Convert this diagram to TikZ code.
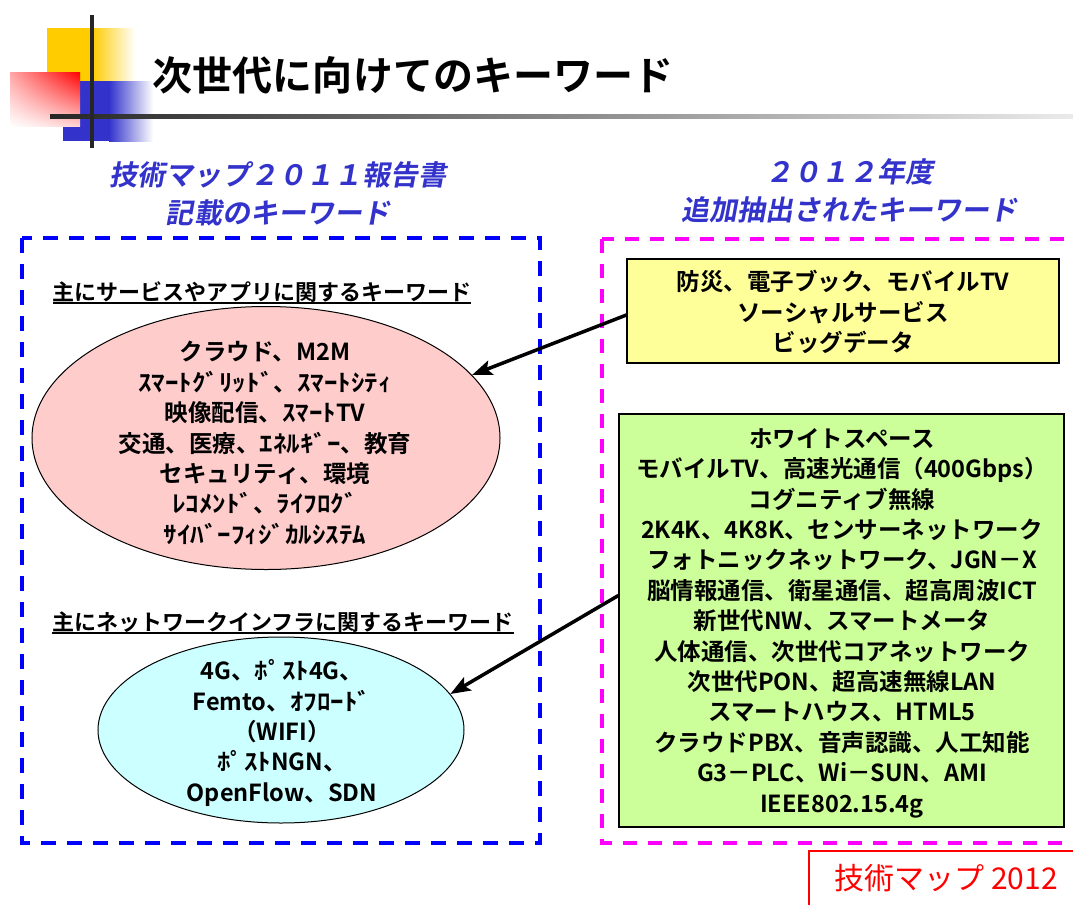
\documentclass[tikz,border=0pt]{standalone}
\usepackage{fontspec}
\setmainfont{Noto Sans CJK JP}[BoldFont={Noto Sans CJK JP Bold}]
\newfontfamily\jpslant{Noto Sans CJK JP Bold}[FakeSlant=0.18]
\newfontfamily\hwk{Noto Sans CJK JP}[BoldFont={Noto Sans CJK JP Bold},FakeStretch=1.15]
\usetikzlibrary{shapes.geometric,arrows.meta,shadings}
\definecolor{hdblue}{HTML}{3333CC}
\definecolor{logoyellow}{HTML}{FFCC00}
\definecolor{logoblue}{HTML}{3333CC}
\definecolor{pinkfill}{HTML}{FFCCCC}
\definecolor{cyanfill}{HTML}{CCFFFF}
\definecolor{yellowfill}{HTML}{FFFF99}
\definecolor{greenfill}{HTML}{CCFF99}
\definecolor{frameblue}{HTML}{0000FF}
\definecolor{framemagenta}{HTML}{FF00FF}
\tikzset{
  hdr/.style={font=\jpslant\fontsize{28bp}{37.5bp}\selectfont, text=hdblue, align=center, inner sep=0pt},
  sub/.style={font=\bfseries\fontsize{22bp}{26bp}\selectfont, inner sep=0pt},
  kw/.style={font=\bfseries\fontsize{23.5bp}{30.4bp}\selectfont, align=center, inner sep=0pt},
  kwbox/.style={draw=black, line width=1.2bp, rectangle, inner sep=0pt},
  bubble/.style={ellipse, draw=black, line width=1bp, inner sep=0pt},
  pointer/.style={line width=3.5bp, -{Stealth[length=20bp,width=15bp,inset=4bp]}},
  bluefr/.style={draw=frameblue, line width=3.5bp, dash pattern=on 15bp off 11bp},
  magfr/.style={draw=framemagenta, line width=3.5bp, dash pattern=on 14bp off 11bp},
}
\begin{document}
\begin{tikzpicture}[x=1bp,y=-1bp]
\useasboundingbox (0,0) rectangle (1073,905);
\clip (0,0) rectangle (1073,905);
\fill[white] (0,0) rectangle (1073,905);
% logo
\fill[logoyellow] (47,28) rectangle (92,81);
\shade[left color=logoyellow, right color=white] (92,28) rectangle (135,81);
\fill[logoblue] (63,81) rectangle (109,141);
\shade[left color=logoblue, right color=white] (109,81) rectangle (153,141);
\shade[upper left=red!35, upper right=red, lower left=white, lower right=red!18] (10,72) rectangle (80,126);
\shade[left color=black!85, right color=black!8] (50,114) rectangle (1073,118.5);
\fill[black!85] (90,15) rectangle (94,148);
% title
\node[font=\bfseries\fontsize{40bp}{48bp}\selectfont, inner sep=0pt] (title) at (413,75) {次世代に向けてのキーワード};
% headings
\node[hdr] (hdleft) at (278,194) {技術マップ２０１１報告書\\記載のキーワード};
\node[hdr] (hdright) at (849,191) {２０１２年度\\追加抽出されたキーワード};
% frames
\draw[bluefr] (22,238) rectangle (540,843);
\draw[magfr] (602,239) rectangle (1079,843);
% left side
\node[sub] (svc) at (262,292) {主にサービスやアプリに関するキーワード};
\draw[line width=1.2bp] ([yshift=-0.5bp]svc.south west) -- ([yshift=-0.5bp]svc.south east);
\node[bubble, fill=pinkfill, minimum width=468bp, minimum height=263bp] (pink) at (266,438) {};
\node[kw] (pinktext) at (265,443) {クラウド、M2M\\{\hwk ｽﾏｰﾄｸﾞﾘｯﾄﾞ}、{\hwk ｽﾏｰﾄｼﾃｨ}\\映像配信、{\hwk ｽﾏｰﾄ}TV\\交通、医療、{\hwk ｴﾈﾙｷﾞｰ}、教育\\セキュリティ、環境\\{\hwk ﾚｺﾒﾝﾄﾞ}、{\hwk ﾗｲﾌﾛｸﾞ}\\{\hwk ｻｲﾊﾞｰﾌｨｼﾞｶﾙｼｽﾃﾑ}};
\node[sub] (net) at (283,622) {主にネットワークインフラに関するキーワード};
\draw[line width=1.2bp] ([yshift=-0.5bp]net.south west) -- ([yshift=-0.5bp]net.south east);
\node[bubble, fill=cyanfill, minimum width=366bp, minimum height=186bp] (cyan) at (281,730) {};
\node[kw] (cyantext) at (282,733) {4G、{\hwk ﾎﾟｽﾄ}4G、\\Femto、{\hwk ｵﾌﾛｰﾄﾞ}\\（WIFI）\\{\hwk ﾎﾟｽﾄ}NGN、\\OpenFlow、SDN};
% right side
\node[kwbox, fill=yellowfill, minimum width=432bp, minimum height=104bp] (ybox) at (843,311) {};
\node[kw] (ytext) at (843,312) {防災、電子ブック、モバイルTV\\ソーシャルサービス\\ビッグデータ};
\node[kwbox, fill=greenfill, minimum width=445bp, minimum height=413bp] (gbox) at (841.5,620.5) {};
\node[kw] (gtext) at (842,623) {ホワイトスペース\\モバイルTV、高速光通信（400Gbps）\\コグニティブ無線\\2K4K、4K8K、センサーネットワーク\\フォトニックネットワーク、JGN－X\\脳情報通信、衛星通信、超高周波ICT\\新世代NW、スマートメータ\\人体通信、次世代コアネットワーク\\次世代PON、超高速無線LAN\\スマートハウス、HTML5\\クラウドPBX、音声認識、人工知能\\G3－PLC、Wi－SUN、AMI\\IEEE802.15.4g};
% arrows
\draw[pointer] ([yshift=-4bp]ybox.west) -- (pink.17);
\draw[pointer] ([yshift=25bp]gbox.west) -- (cyan.12);
% label
\draw[red, line width=2bp] (809,915) -- (809,851) -- (1085,851);
\node[font=\fontsize{30bp}{36bp}\selectfont, text=red, inner sep=0pt] (maplabel) at (946,878) {技術マップ 2012};
\end{tikzpicture}
\end{document}
